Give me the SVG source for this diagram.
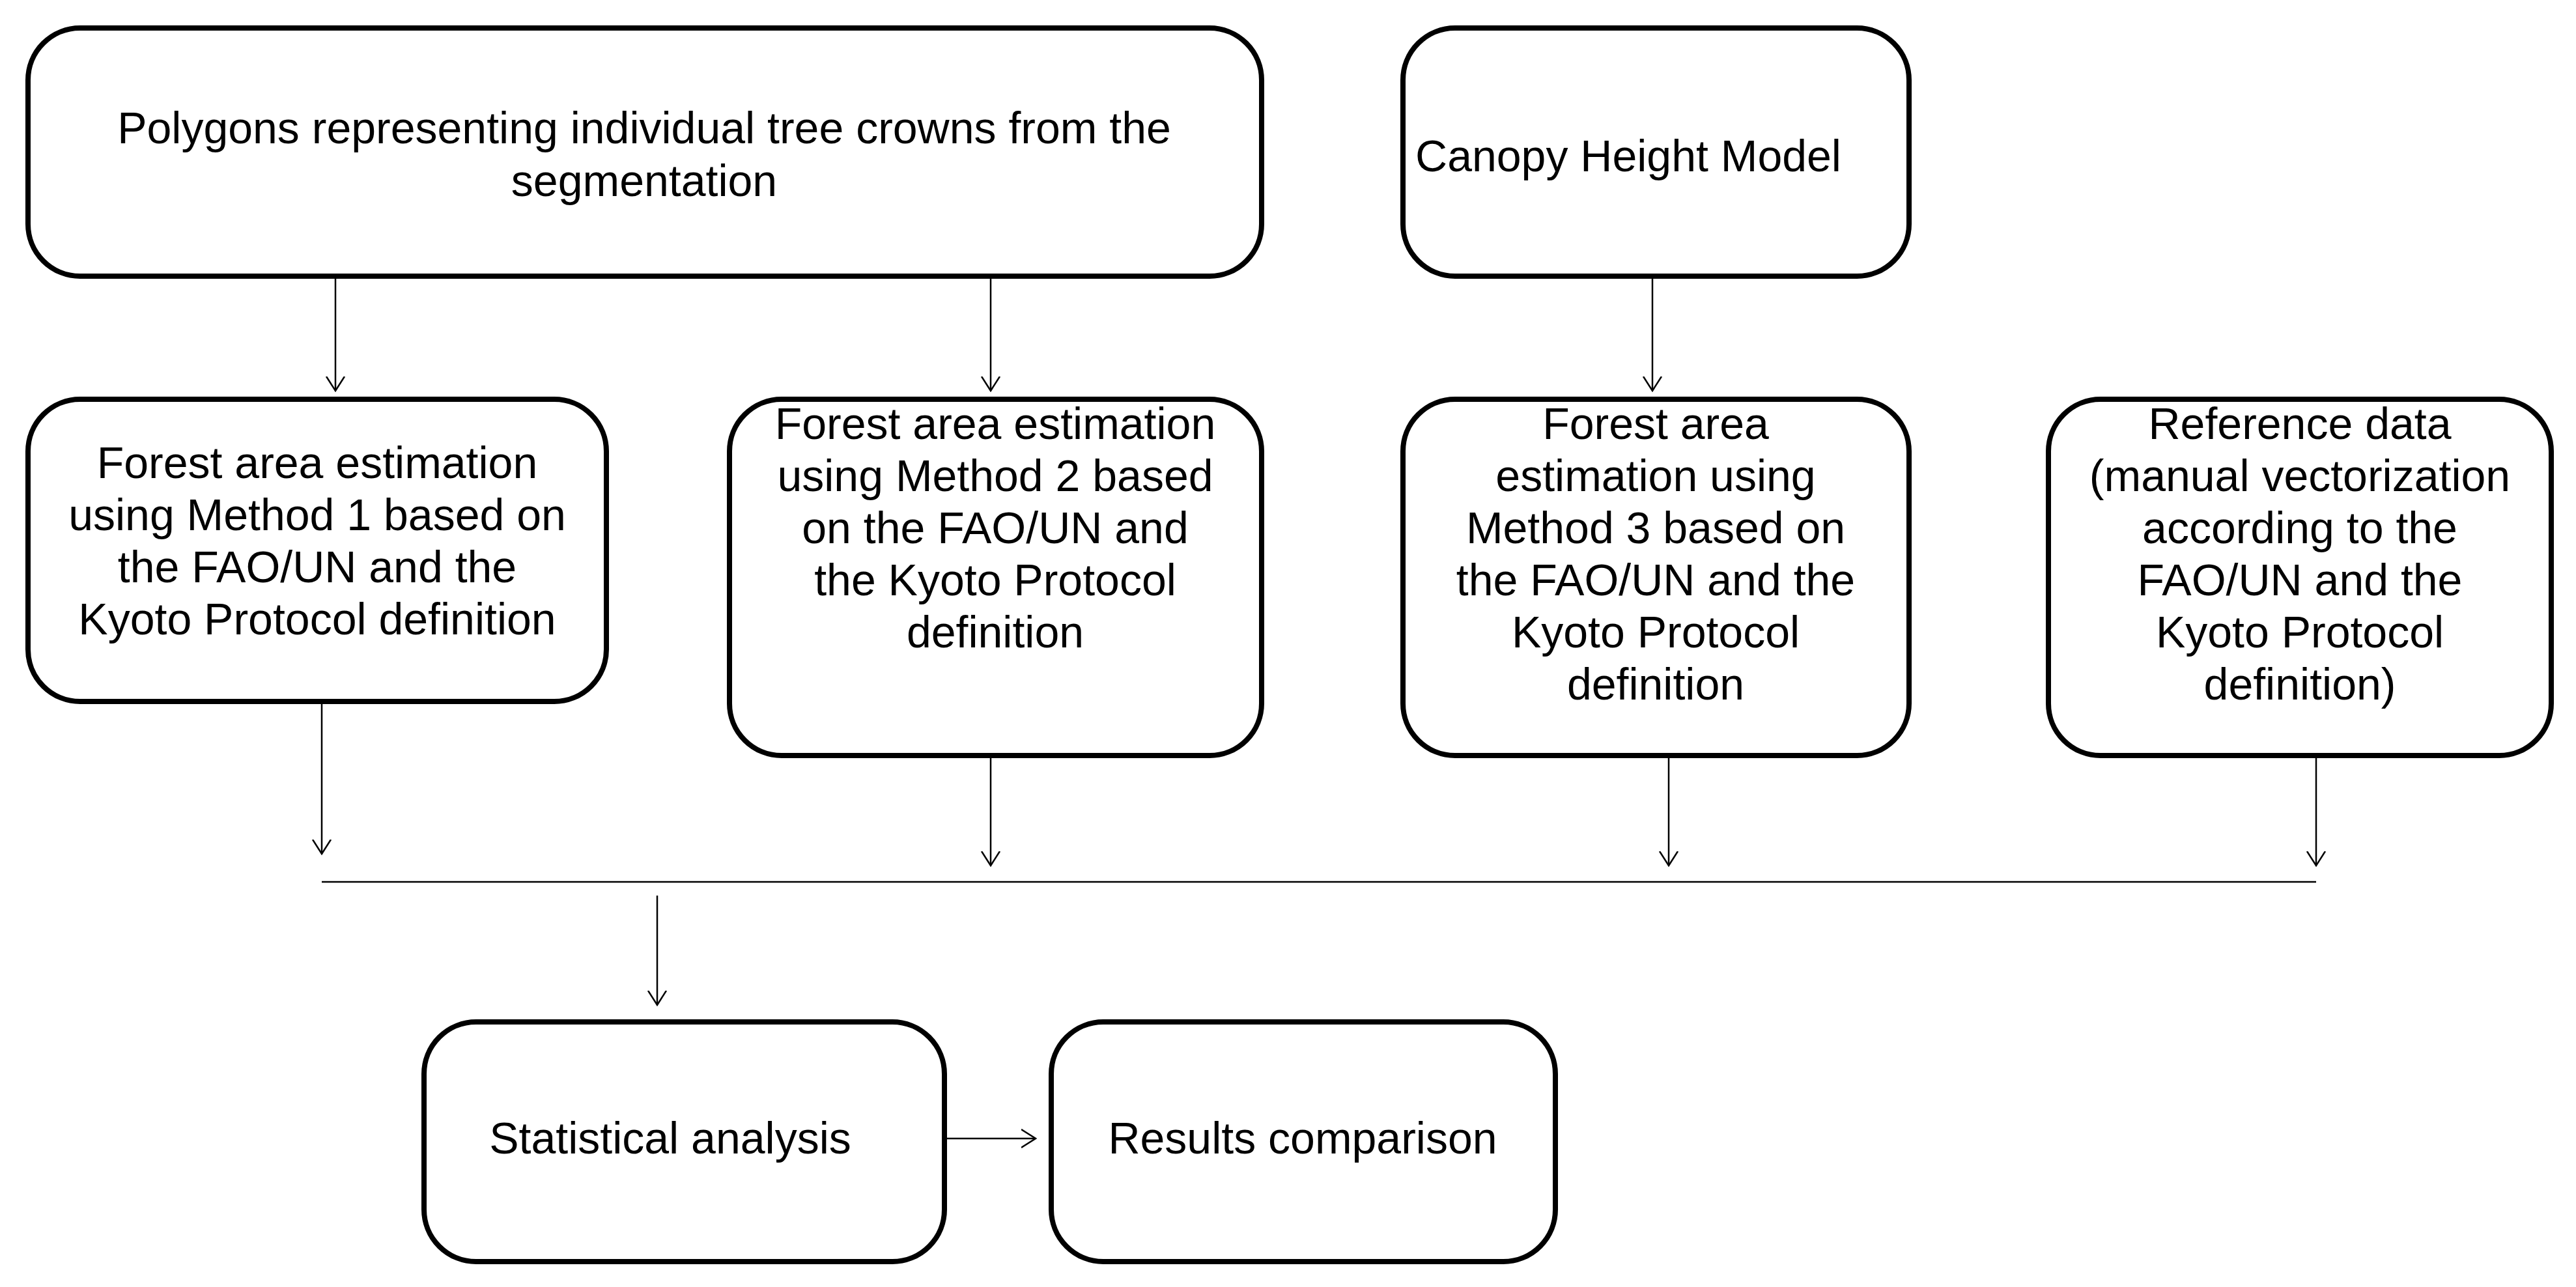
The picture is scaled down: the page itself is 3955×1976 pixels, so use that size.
<svg xmlns="http://www.w3.org/2000/svg" width="3955" height="1976" viewBox="0 0 3955 1976">
<style>
.b{fill:#fff;stroke:#000;stroke-width:8}
.t{font-family:"Liberation Sans",Arial,sans-serif;font-size:68px;text-anchor:middle;fill:#000}
.c{stroke:#000;stroke-width:2.5;fill:none}
</style>
<defs><marker id="a" markerWidth="24" markerHeight="40" refX="22" refY="20" orient="auto" markerUnits="userSpaceOnUse"><path d="M0,6 L22,20 L0,34" fill="none" stroke="#000" stroke-width="2.5"/></marker></defs>
<rect width="3955" height="1976" fill="#fff"/>
<g id="n1"><rect class="b" x="43" y="43" width="1894" height="381" rx="80"/><text class="t" x="989" y="220">Polygons representing individual tree crowns from the</text><text class="t" x="989" y="301">segmentation</text></g>
<g id="n2"><rect class="b" x="2154" y="43" width="777" height="381" rx="80"/><text class="t" x="2500" y="263">Canopy Height Model</text></g>
<g id="n3"><rect class="b" x="43" y="613" width="888" height="464" rx="80"/><text class="t"><tspan x="487" y="734">Forest area estimation</tspan><tspan x="487" y="814">using Method 1 based on</tspan><tspan x="487" y="894">the FAO/UN and the</tspan><tspan x="487" y="974">Kyoto Protocol definition</tspan></text></g>
<g id="n4"><rect class="b" x="1120" y="613" width="817" height="547" rx="80"/><text class="t"><tspan x="1528" y="674">Forest area estimation</tspan><tspan x="1528" y="754">using Method 2 based</tspan><tspan x="1528" y="834">on the FAO/UN and</tspan><tspan x="1528" y="914">the Kyoto Protocol</tspan><tspan x="1528" y="994">definition</tspan></text></g>
<g id="n5"><rect class="b" x="2154" y="613" width="777" height="547" rx="80"/><text class="t"><tspan x="2542" y="674">Forest area</tspan><tspan x="2542" y="754">estimation using</tspan><tspan x="2542" y="834">Method 3 based on</tspan><tspan x="2542" y="914">the FAO/UN and the</tspan><tspan x="2542" y="994">Kyoto Protocol</tspan><tspan x="2542" y="1074">definition</tspan></text></g>
<g id="n6"><rect class="b" x="3145" y="613" width="772" height="547" rx="80"/><text class="t"><tspan x="3531" y="674">Reference data</tspan><tspan x="3531" y="754">(manual vectorization</tspan><tspan x="3531" y="834">according to the</tspan><tspan x="3531" y="914">FAO/UN and the</tspan><tspan x="3531" y="994">Kyoto Protocol</tspan><tspan x="3531" y="1074">definition)</tspan></text></g>
<g id="n7"><rect class="b" x="651" y="1569" width="799" height="368" rx="80"/><text class="t" x="1029" y="1771">Statistical analysis</text></g>
<g id="n8"><rect class="b" x="1614" y="1569" width="774" height="368" rx="80"/><text class="t" x="2000" y="1771">Results comparison</text></g>
<g id="connectors">
<line class="c" x1="515" y1="424" x2="515" y2="600" marker-end="url(#a)"/>
<line class="c" x1="1521" y1="424" x2="1521" y2="600" marker-end="url(#a)"/>
<line class="c" x1="2537" y1="424" x2="2537" y2="600" marker-end="url(#a)"/>
<line class="c" x1="494" y1="1077" x2="494" y2="1311" marker-end="url(#a)"/>
<line class="c" x1="1521" y1="1160" x2="1521" y2="1329" marker-end="url(#a)"/>
<line class="c" x1="2562" y1="1160" x2="2562" y2="1329" marker-end="url(#a)"/>
<line class="c" x1="3556" y1="1160" x2="3556" y2="1329" marker-end="url(#a)"/>
<line class="c" x1="494" y1="1354" x2="3556" y2="1354" stroke-width="4"/>
<line class="c" x1="1009" y1="1375" x2="1009" y2="1543" marker-end="url(#a)"/>
<line class="c" x1="1450" y1="1748" x2="1590" y2="1748" marker-end="url(#a)"/>
</g>
</svg>
